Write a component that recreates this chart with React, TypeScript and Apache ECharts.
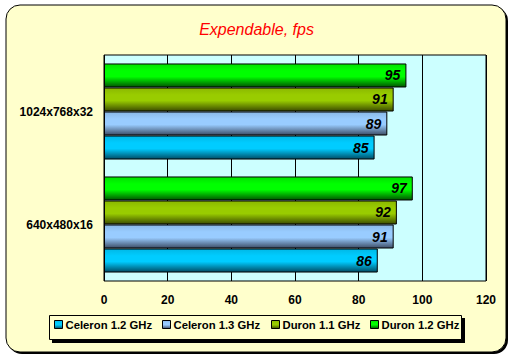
import React, { useEffect, useRef } from "react";
import * as echarts from "echarts";

const categories = ["640x480x16", "1024x768x32"];
const seriesNames = ["Celeron 1.2 GHz", "Celeron 1.3 GHz", "Duron 1.1 GHz", "Duron 1.2 GHz"];
const celeron12 = [86, 85];
const celeron13 = [91, 89];
const duron11 = [92, 91];
const duron12 = [97, 95];
const seriesValues = [celeron12, celeron13, duron11, duron12];
const baseColors = ["#00CCFF", "#99CCFF", "#99CC00", "#00FF00"];
const topColors = ["#00B8E6", "#8AB8E6", "#8AB800", "#00E000"];
const darkColors = ["#004D66", "#3D4D66", "#3D4D00", "#005500"];
const legendLefts = [54, 162, 271, 370];

const font = "Liberation Sans, Arial, sans-serif";

export default function App() {
  const ref = useRef<HTMLDivElement>(null);
  useEffect(() => {
    if (!ref.current) return;
    const chart = echarts.init(ref.current, null, { renderer: "svg" });
    const series = seriesNames
      .map((name, i) => ({
        name,
        type: "bar",
        data: seriesValues[i],
        barGap: "0%",
        barCategoryGap: "15%",
        itemStyle: {
          color: new echarts.graphic.LinearGradient(0, 0, 0, 1, [
            { offset: 0, color: topColors[i] },
            { offset: 0.3, color: baseColors[i] },
            { offset: 0.55, color: baseColors[i] },
            { offset: 1, color: darkColors[i] },
          ]),
          borderColor: "#000",
          borderWidth: 1,
        },
        label: {
          show: true,
          position: "insideRight",
          distance: 6,
          color: "#000",
          fontStyle: "italic",
          fontWeight: "bold",
          fontSize: 14,
          fontFamily: font,
        },
      }))
      .reverse();
    const legends = seriesNames.map((name, i) => ({
      data: [name],
      left: legendLefts[i],
      top: 319,
      padding: 0,
      itemWidth: 8,
      itemHeight: 8,
      icon: "rect",
      selectedMode: false,
      textStyle: {
        color: "#000",
        fontWeight: "bold",
        fontSize: 11.3,
        fontFamily: font,
        padding: [0, 0, 0, -2],
      },
      itemStyle: { borderColor: "#000", borderWidth: 1 },
    }));
    chart.setOption({
      animation: false,
      backgroundColor: "#FFFFFF",
      graphic: [
        {
          type: "rect",
          z: -10,
          shape: { x: 8, y: 7, width: 500, height: 347, r: 14 },
          style: { fill: "#000" },
        },
        {
          type: "rect",
          z: -9,
          shape: { x: 6, y: 5, width: 500, height: 347, r: 14 },
          style: { fill: "#FFFFCC", stroke: "#000", lineWidth: 1 },
        },
        {
          type: "rect",
          z: -8,
          shape: { x: 52, y: 318, width: 413, height: 25 },
          style: { fill: "#000" },
        },
        {
          type: "rect",
          z: -7,
          shape: { x: 49.5, y: 315.5, width: 412, height: 24 },
          style: { fill: "#FFFFCC", stroke: "#000", lineWidth: 1 },
        },
      ],
      title: {
        text: "Expendable, fps",
        left: "center",
        top: 16,
        textStyle: {
          color: "#FF0000",
          fontStyle: "italic",
          fontWeight: "normal",
          fontSize: 16,
          fontFamily: font,
        },
      },
      grid: {
        left: 104,
        right: 27,
        top: 55,
        bottom: 76,
        show: true,
        backgroundColor: "#CCFFFF",
        borderColor: "#000",
        borderWidth: 1,
      },
      xAxis: {
        type: "value",
        min: 0,
        max: 120,
        interval: 20,
        axisLine: { show: false },
        axisTick: { show: false },
        splitLine: { show: true, lineStyle: { color: "#000", width: 1 } },
        axisLabel: {
          color: "#000",
          fontWeight: "bold",
          fontSize: 12,
          fontFamily: font,
          margin: 13,
        },
      },
      yAxis: {
        type: "category",
        data: categories,
        axisLine: { show: false },
        axisTick: { show: false },
        axisLabel: {
          color: "#000",
          fontWeight: "bold",
          fontSize: 12,
          fontFamily: font,
          margin: 11,
        },
      },
      legend: legends,
      series,
    });
    return () => chart.dispose();
  }, []);
  return (
    <div
      ref={ref}
      style={{ position: "fixed", left: 0, top: 0, width: 513, height: 357 }}
    />
  );
}
